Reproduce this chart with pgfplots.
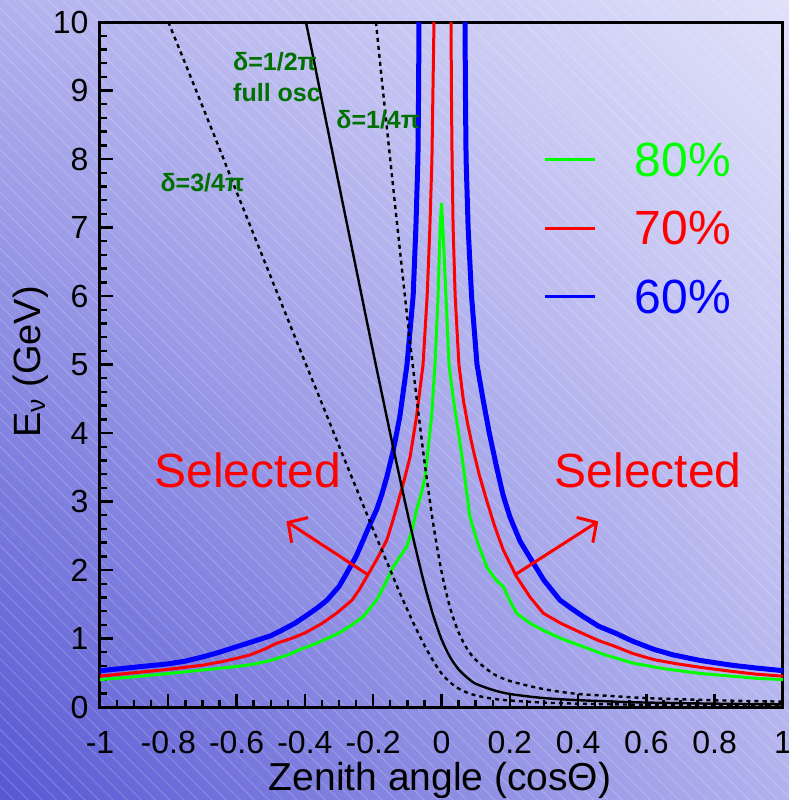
\documentclass[border=0pt]{standalone}
\usepackage{pgfplots}
\pgfplotsset{compat=1.18}
\usepackage{fontspec}
\setmainfont{Liberation Sans}
\usetikzlibrary{arrows.meta,patterns.meta,shadings}
\definecolor{bgLL}{RGB}{88,88,212}
\definecolor{bgUR}{RGB}{224,224,250}
\definecolor{bgMID}{RGB}{178,178,238}
\definecolor{pgreen}{RGB}{0,255,0}
\definecolor{dgreen}{RGB}{0,112,0}
\begin{document}
\begin{tikzpicture}
\useasboundingbox (0,0) rectangle (394.5pt,400pt);
\shade[lower left=bgLL, upper right=bgUR, upper left=bgMID, lower right=bgMID] (0,0) rectangle (394.5pt,400pt);
\fill[pattern={Lines[angle=-45,distance=5pt,line width=0.4pt]}, pattern color=white, opacity=0.22] (0,0) rectangle (394.5pt,400pt);
\begin{axis}[
  scale only axis, width=341.5pt, height=342.5pt,
  at={(50pt,46.5pt)}, anchor=south west,
  xmin=-1, xmax=1, ymin=0, ymax=10,
  clip=false,
  axis line style={line width=1.5pt},
  tick pos=left, tick align=inside,
  major tick length=6.5pt, minor tick length=3.5pt,
  every tick/.append style={black, line width=1.2pt},
  xtick={-1,-0.8,-0.6,-0.4,-0.2,0,0.2,0.4,0.6,0.8,1},
  xticklabels={-1,-0.8,-0.6,-0.4,-0.2,0,0.2,0.4,0.6,0.8,1},
  ytick={0,1,2,3,4,5,6,7,8,9,10},
  yticklabels={0,1,2,3,4,5,6,7,8,9,10},
  minor x tick num=3, minor y tick num=4,
  xticklabel style={font=\fontsize{16}{18}\selectfont, anchor=base, yshift=-23pt},
  yticklabel style={font=\fontsize{16}{18}\selectfont, anchor=east, xshift=-2.2pt},
  xlabel={Zenith angle (cosΘ)},
  ylabel={E\textsubscript{ν} (GeV)},
  xlabel style={font=\fontsize{19.5}{23}\selectfont, at={(axis description cs:0.498,-0.1226)}, anchor=base},
  ylabel style={font=\fontsize{19}{23}\selectfont, at={(axis description cs:-0.1020,0.5036)}, anchor=center},
]
% 60%
\addplot[blue, line width=2.5pt] coordinates {(-1,0.53) (-0.9,0.58) (-0.8,0.63) (-0.75,0.67) (-0.7,0.73) (-0.65,0.80) (-0.6,0.88) (-0.556,0.95) (-0.5,1.04) (-0.468,1.12) (-0.43,1.22) (-0.394,1.34) (-0.36,1.46) (-0.335,1.56) (-0.3,1.76) (-0.278,1.95) (-0.25,2.2) (-0.229,2.44) (-0.21,2.66) (-0.19,2.88) (-0.175,3.1) (-0.16,3.36) (-0.141,3.75) (-0.122,4.24) (-0.101,5.0) (-0.083,6.0) (-0.075,7.0) (-0.069,8.0) (-0.067,9.0) (-0.066,10)};
\addplot[blue, line width=2.5pt] coordinates {(0.069,10) (0.070,9) (0.072,8) (0.078,7) (0.088,6) (0.104,5) (0.122,4.48) (0.14,4.0) (0.161,3.51) (0.18,3.1) (0.2,2.78) (0.23,2.42) (0.269,2.1) (0.3,1.85) (0.347,1.56) (0.38,1.44) (0.415,1.32) (0.46,1.18) (0.513,1.07) (0.56,0.96) (0.623,0.84) (0.679,0.76) (0.757,0.68) (0.85,0.61) (0.92,0.57) (1,0.53)};
% 70%
\addplot[red, line width=1.5pt] coordinates {(-1,0.45) (-0.9,0.50) (-0.8,0.55) (-0.7,0.61) (-0.645,0.66) (-0.6,0.71) (-0.561,0.76) (-0.52,0.84) (-0.483,0.93) (-0.44,1.0) (-0.4,1.08) (-0.35,1.22) (-0.307,1.37) (-0.262,1.56) (-0.24,1.72) (-0.219,1.9) (-0.19,2.15) (-0.16,2.44) (-0.145,2.68) (-0.131,2.92) (-0.11,3.3) (-0.092,3.65) (-0.073,4.24) (-0.054,5.0) (-0.042,6.0) (-0.034,7.0) (-0.028,8.0) (-0.025,9.0) (-0.022,10)};
\addplot[red, line width=1.5pt] coordinates {(0.028,10) (0.029,9) (0.031,8) (0.034,7) (0.040,6) (0.051,5) (0.064,4.48) (0.078,4.1) (0.093,3.75) (0.11,3.4) (0.132,3.02) (0.155,2.65) (0.181,2.29) (0.22,1.9) (0.26,1.6) (0.298,1.37) (0.35,1.22) (0.415,1.07) (0.46,0.97) (0.5,0.90) (0.561,0.78) (0.623,0.69) (0.69,0.63) (0.757,0.58) (0.85,0.52) (0.92,0.48) (1,0.45)};
% 80%
\addplot[pgreen, line width=1.5pt] coordinates {(-1,0.40) (-0.9,0.44) (-0.777,0.50) (-0.7,0.54) (-0.62,0.58) (-0.556,0.62) (-0.5,0.68) (-0.45,0.76) (-0.409,0.85) (-0.366,0.93) (-0.3,1.08) (-0.262,1.2) (-0.229,1.32) (-0.19,1.56) (-0.165,1.8) (-0.141,2.05) (-0.102,2.34) (-0.085,2.6) (-0.073,2.88) (-0.06,3.1) (-0.048,3.36) (-0.029,4.24) (-0.019,5.0) (-0.010,6.0) (-0.004,7.0) (0,7.36) (0.004,7.0) (0.013,6.0) (0.022,5.0) (0.035,4.48) (0.05,4.0) (0.064,3.51) (0.083,2.78) (0.103,2.44) (0.132,2.05) (0.16,1.85) (0.181,1.76) (0.2,1.55) (0.22,1.37) (0.26,1.22) (0.298,1.12) (0.35,1.0) (0.415,0.88) (0.48,0.76) (0.561,0.64) (0.65,0.56) (0.757,0.49) (0.85,0.45) (0.92,0.42) (1,0.40)};
% full osc, delta = pi/2
\addplot[black, line width=1.2pt, smooth] coordinates {(-0.397,10) (-0.375,9.47) (-0.35,8.85) (-0.3,7.62) (-0.25,6.40) (-0.2,5.18) (-0.15,3.99) (-0.125,3.41) (-0.1,2.84) (-0.075,2.30) (-0.05,1.79) (-0.025,1.35) (0,0.99) (0.025,0.73) (0.05,0.55) (0.075,0.43) (0.1,0.34) (0.15,0.25) (0.2,0.19) (0.3,0.13) (0.4,0.10) (0.5,0.08) (0.6,0.065) (0.8,0.049) (1.0,0.039)};
% delta = pi/4
\addplot[black, line width=1.2pt, smooth, dash pattern=on 2pt off 2pt] coordinates {(-0.192,10) (-0.175,9.17) (-0.15,7.99) (-0.125,6.82) (-0.1,5.68) (-0.075,4.60) (-0.05,3.59) (-0.025,2.70) (0,1.98) (0.025,1.45) (0.05,1.09) (0.075,0.85) (0.1,0.69) (0.15,0.49) (0.2,0.38) (0.3,0.26) (0.4,0.19) (0.5,0.16) (0.6,0.13) (0.8,0.098) (1.0,0.078)};
% delta = 3pi/4
\addplot[black, line width=1.2pt, smooth, dash pattern=on 2pt off 2pt] coordinates {(-0.8,10.0) (-0.75,9.39) (-0.7,8.77) (-0.65,8.15) (-0.6,7.52) (-0.55,6.90) (-0.5,6.28) (-0.45,5.66) (-0.4,5.04) (-0.35,4.43) (-0.3,3.81) (-0.25,3.20) (-0.2,2.59) (-0.15,2.00) (-0.125,1.70) (-0.1,1.42) (-0.075,1.15) (-0.05,0.90) (-0.025,0.68) (0,0.49) (0.025,0.36) (0.05,0.27) (0.075,0.21) (0.1,0.17) (0.15,0.12) (0.2,0.095) (0.3,0.064) (0.4,0.049) (0.5,0.039) (0.6,0.033) (0.8,0.025) (1.0,0.020)};
% legend
\addplot[pgreen, line width=1.5pt] coordinates {(0.303,7.99) (0.449,7.99)};
\addplot[red, line width=1.5pt] coordinates {(0.303,6.99) (0.449,6.99)};
\addplot[blue, line width=1.5pt] coordinates {(0.303,5.99) (0.449,5.99)};
\node[anchor=west, inner sep=0pt, text=pgreen, font=\fontsize{24}{28}\selectfont] at (axis cs:0.565,7.99) {80\%};
\node[anchor=west, inner sep=0pt, text=red, font=\fontsize{24}{28}\selectfont] at (axis cs:0.565,6.99) {70\%};
\node[anchor=west, inner sep=0pt, text=blue, font=\fontsize{24}{28}\selectfont] at (axis cs:0.565,5.99) {60\%};
% annotations
\node[anchor=west, inner sep=0pt, align=left, text=dgreen, font=\bfseries\fontsize{12.5}{15.5}\selectfont] at (axis cs:-0.611,9.20) {δ=1/2π\\full osc};
\node[anchor=west, inner sep=0pt, text=dgreen, font=\bfseries\fontsize{12.5}{15.5}\selectfont] at (axis cs:-0.309,8.57) {δ=1/4π};
\node[anchor=west, inner sep=0pt, text=dgreen, font=\bfseries\fontsize{12.5}{15.5}\selectfont] at (axis cs:-0.824,7.65) {δ=3/4π};
\node[anchor=base, inner sep=0pt, text=red, font=\fontsize{24}{28}\selectfont] at (axis cs:-0.567,3.20) {Selected};
\node[anchor=base, inner sep=0pt, text=red, font=\fontsize{24}{28}\selectfont] at (axis cs:0.605,3.20) {Selected};
\draw[red, line width=1.5pt, -{Straight Barb[length=7pt,width=15pt,line width=1.5pt]}] (axis cs:-0.215,1.93) -- (axis cs:-0.454,2.71);
\draw[red, line width=1.5pt, -{Straight Barb[length=7pt,width=15pt,line width=1.5pt]}] (axis cs:0.215,1.93) -- (axis cs:0.459,2.71);
\end{axis}
\end{tikzpicture}
\end{document}
